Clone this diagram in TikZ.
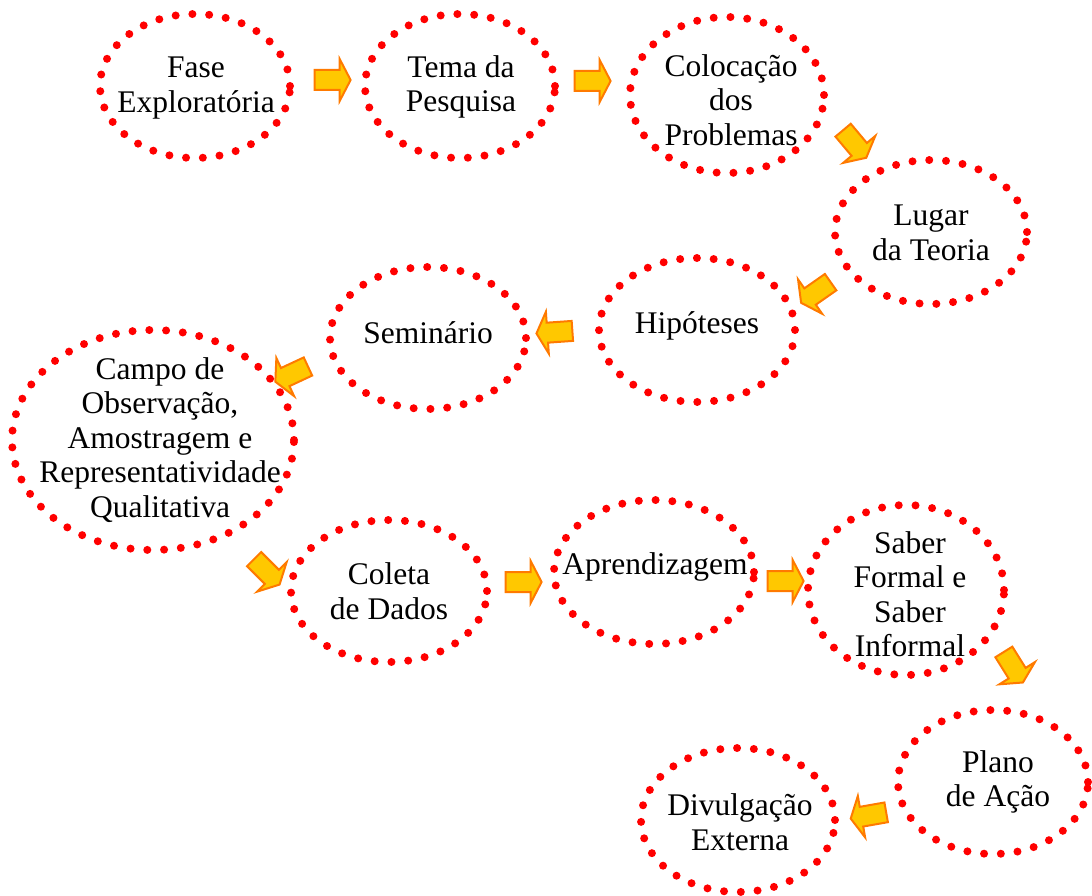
\documentclass[tikz,border=0pt]{standalone}
\usepackage{fontspec}
\setmainfont{Liberation Serif}
\usetikzlibrary{shapes.geometric,shapes.arrows}
\definecolor{dotred}{RGB}{255,0,0}
\definecolor{arrfill}{RGB}{255,200,0}
\definecolor{arredge}{RGB}{255,122,0}
\begin{document}
\begin{tikzpicture}[x=1pt,y=-1pt,
  stage/.style={ellipse, draw=dotred, line width=8pt, line cap=round,
    dash pattern=on 0pt off 16.8pt, inner sep=0pt},
  lbl/.style={align=center, font=\fontsize{31.5}{34.5}\selectfont, inner sep=0pt},
  flow/.style={single arrow, fill=arrfill, draw=arredge, line width=2pt,
    minimum height=36pt, single arrow head extend=11pt,
    single arrow tip angle=125, single arrow head indent=0pt, inner sep=9pt}]
\useasboundingbox (0,0) rectangle (1092,896);

% stages of the research
\node[stage, minimum width=190pt, minimum height=144pt] (s1) at (195,86) {};
\node[stage, minimum width=190pt, minimum height=144pt] (s2) at (460,86) {};
\node[stage, minimum width=194pt, minimum height=156pt] (s3) at (727,95) {};
\node[stage, minimum width=192pt, minimum height=144pt] (s4) at (931,232) {};
\node[stage, minimum width=196pt, minimum height=144pt] (s5) at (697,330) {};
\node[stage, minimum width=196pt, minimum height=142pt] (s6) at (428,338) {};
\node[stage, minimum width=282pt, minimum height=220pt] (s7) at (153,440) {};
\node[stage, minimum width=196pt, minimum height=142pt] (s8) at (389,591) {};
\node[stage, minimum width=200pt, minimum height=144pt] (s9) at (654,572) {};
\node[stage, minimum width=196pt, minimum height=170pt] (s10) at (906,590) {};
\node[stage, minimum width=190pt, minimum height=144pt] (s11) at (993,782) {};
\node[stage, minimum width=194pt, minimum height=144pt] (s12) at (738,820) {};

% stage names
\node[lbl] (t1) at (196,88) {Fase\\Exploratória};
\node[lbl] (t2) at (461,87) {Tema da\\Pesquisa};
\node[lbl] (t3) at (731,100) {Colocação\\dos\\Problemas};
\node[lbl] (t4) at (931,233) {Lugar\\da Teoria};
\node[lbl] (t5) at (697,326) {Hipóteses};
\node[lbl] (t6) at (428,333) {Seminário};
\node[lbl] (t7) at (160,440) {Campo de\\Observação,\\Amostragem e\\Representatividade\\Qualitativa};
\node[lbl] (t8) at (389,591) {Coleta\\de Dados};
\node[lbl] (t9) at (655,567) {Aprendizagem};
\node[lbl] (t10) at (910,594) {Saber\\Formal e\\Saber\\Informal};
\node[lbl] (t11) at (998,782) {Plano\\de Ação};
\node[lbl] (t12) at (740,822) {Divulgação\\Externa};

% block arrows between stages
\node[flow, rotate=0] (a1) at (330,80) {};
\node[flow, rotate=0] (a2) at (590,81) {};
\node[flow, rotate=-50] (a3) at (853,142) {};
\node[flow, rotate=215] (a4) at (818,291) {};
\node[flow, rotate=184] (a5) at (557,332) {};
\node[flow, rotate=205] (a6) at (294,373) {};
\node[flow, rotate=-45] (a7) at (265,570) {};
\node[flow, rotate=0] (a8) at (521,582) {};
\node[flow, rotate=0] (a9) at (783,581) {};
\node[flow, rotate=-58] (a10) at (1012,665) {};
\node[flow, rotate=190] (a11) at (871,815) {};
\end{tikzpicture}
\end{document}
